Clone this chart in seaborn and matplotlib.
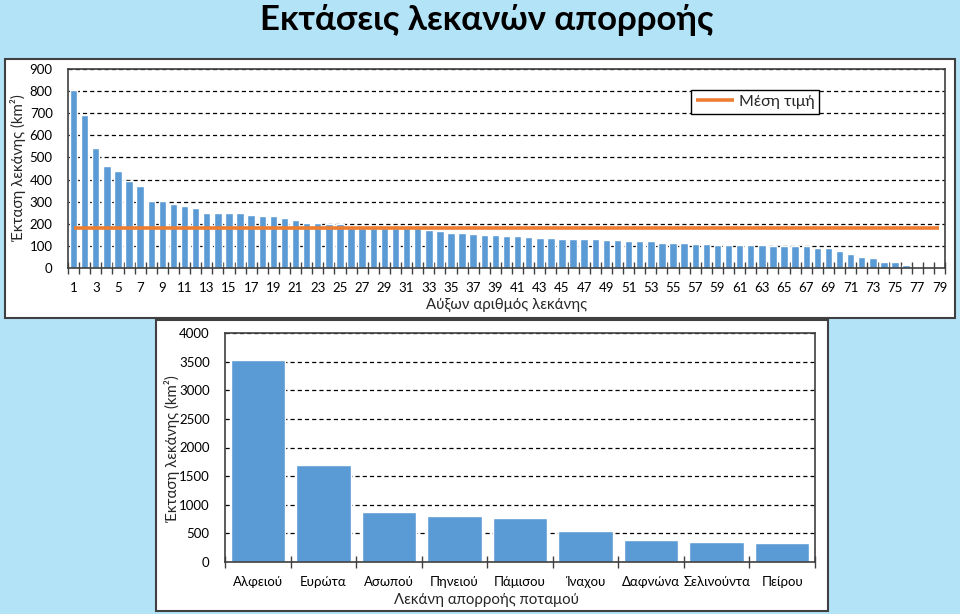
import numpy as np
import pandas as pd
import matplotlib
matplotlib.use("Agg")
import matplotlib.pyplot as plt
import seaborn as sns
from matplotlib import font_manager
from matplotlib.patches import Rectangle

# ---------------- data ----------------
basin_ids = list(range(1, 80))
basin_areas = [806, 694, 543, 462, 438, 393, 370, 305, 301, 290,
               282, 272, 249, 248, 248, 247, 240, 237, 235, 226,
               215, 205, 202, 200, 199, 185, 180, 179, 179, 179,
               179, 179, 170, 169, 158, 157, 153, 150, 148, 145,
               144, 140, 136, 134, 133, 132, 130, 130, 127, 125,
               124, 121, 120, 115, 113, 111, 108, 107, 105, 105,
               102, 102, 102, 101, 99, 100, 100, 92, 92, 78,
               65, 50, 44, 27, 25, 12, 4, 1, 0]
rivers = ["Αλφειού", "Ευρώτα", "Ασωπού", "Πηνειού", "Πάμισου",
          "Ίναχου", "Δαφνώνα", "Σελινούντα", "Πείρου"]
river_areas = [3533, 1693, 870, 806, 765, 543, 385, 356, 339]

title = "Εκτάσεις λεκανών απορροής"
ylabel = "Έκταση λεκάνης (km²)"
xlabel_top = "Αύξων αριθμός λεκάνης"
xlabel_bottom = "Λεκάνη απορροής ποταμού"
legend_label = "Μέση τιμή"

BLUE = "#5B9BD5"
ORANGE = "#ED7D31"
BG = "#B3E3F7"
EDGE = "#404040"

sns.set_theme(style="white")
available = {f.name for f in font_manager.fontManager.ttflist}
fams = [f for f in ["Lato", "Liberation Sans", "DejaVu Sans"] if f in available]
plt.rcParams["font.family"] = fams
plt.rcParams["lines.scale_dashes"] = False

W, H = 960, 614
fig = plt.figure(figsize=(W / 100, H / 100), dpi=100)
fig.patch.set_facecolor(BG)


def fx(x):
    return x / W


def fy(y):
    return 1 - y / H


# panels
fig.add_artist(Rectangle((fx(5), fy(318)), fx(950), 259 / H, transform=fig.transFigure,
                         facecolor="white", edgecolor=EDGE, lw=1.5, zorder=-5))
fig.add_artist(Rectangle((fx(156), fy(611)), fx(672), 291 / H, transform=fig.transFigure,
                         facecolor="white", edgecolor=EDGE, lw=1.5, zorder=-5))

grid_kw = dict(color="black", linestyle=(0, (3, 2.2)), linewidth=0.9)
TICK_FS = 9.5
LABEL_FS = 10.8

# ---------------- top chart ----------------
ax1 = fig.add_axes([fx(68), fy(268), fx(945 - 68), (268 - 69) / H])
df1 = pd.DataFrame({"id": [str(i) for i in basin_ids], "area": basin_areas})
sns.barplot(data=df1, x="id", y="area", order=list(df1["id"]), color=BLUE,
            saturation=1, width=0.67, ax=ax1, zorder=2)
mean_area = float(np.mean(basin_areas))
ax1.hlines(mean_area, 0, len(basin_areas) - 1, color=ORANGE, lw=2.6,
           label=legend_label, zorder=3)
ax1.set_xlim(-0.5, len(basin_ids) - 0.5)
ax1.set_ylim(0, 900)
ax1.set_yticks(range(0, 901, 100))
ax1.set_xticks(range(0, len(basin_ids), 2))
ax1.set_xticklabels([str(i) for i in basin_ids[::2]])
ax1.set_xticks(np.arange(-0.5, len(basin_ids), 1), minor=True)
ax1.set_xlabel("")
ax1.set_ylabel("")
ax1.set_axisbelow(True)
ax1.yaxis.grid(True, **grid_kw)
ax1.tick_params(axis="x", which="major", length=0, pad=10, labelsize=TICK_FS, colors="black")
ax1.tick_params(axis="x", which="minor", bottom=True, length=8, direction="inout",
                width=1, color=EDGE)
ax1.tick_params(axis="y", length=0, pad=11, labelsize=TICK_FS, colors="black")
for s in ax1.spines.values():
    s.set_color(EDGE)
    s.set_linewidth(1.2)
leg = ax1.legend(loc="upper right", bbox_to_anchor=(0.866, 0.935), frameon=True,
                 fancybox=False, edgecolor="black", framealpha=1, fontsize=11.5,
                 handlelength=2.4, borderpad=0.3, handletextpad=0.3)
leg.get_frame().set_linewidth(1.0)

# ---------------- bottom chart ----------------
ax2 = fig.add_axes([fx(225), fy(562), fx(815 - 225), (562 - 333) / H])
df2 = pd.DataFrame({"river": rivers, "area": river_areas})
sns.barplot(data=df2, x="river", y="area", order=rivers, color=BLUE,
            saturation=1, width=0.83, ax=ax2, zorder=2)
ax2.set_xlim(-0.5, len(rivers) - 0.5)
ax2.set_ylim(0, 4000)
ax2.set_yticks(range(0, 4001, 500))
ax2.set_xticks(np.arange(-0.5, len(rivers), 1), minor=True)
ax2.set_xlabel("")
ax2.set_ylabel("")
ax2.set_axisbelow(True)
ax2.yaxis.grid(True, **grid_kw)
ax2.tick_params(axis="x", which="major", length=0, pad=10, labelsize=TICK_FS, colors="black")
ax2.tick_params(axis="x", which="minor", bottom=True, length=8, direction="inout",
                width=1, color=EDGE)
ax2.tick_params(axis="y", length=0, pad=11, labelsize=TICK_FS, colors="black")
for s in ax2.spines.values():
    s.set_color(EDGE)
    s.set_linewidth(1.2)

# ---------------- texts ----------------
fig.text(fx(487), fy(20), title, ha="center", va="center", fontsize=25,
         fontweight="bold", color="black")
fig.text(fx(18), fy(168), ylabel, ha="center", va="center", rotation=90, fontsize=LABEL_FS)
fig.text(fx(172), fy(449), ylabel, ha="center", va="center", rotation=90, fontsize=LABEL_FS)
fig.text(fx(507), fy(305), xlabel_top, ha="center", va="center", fontsize=LABEL_FS)
fig.text(fx(487), fy(600), xlabel_bottom, ha="center", va="center", fontsize=LABEL_FS)

fig.savefig("out.png", dpi=100, facecolor=fig.get_facecolor())
